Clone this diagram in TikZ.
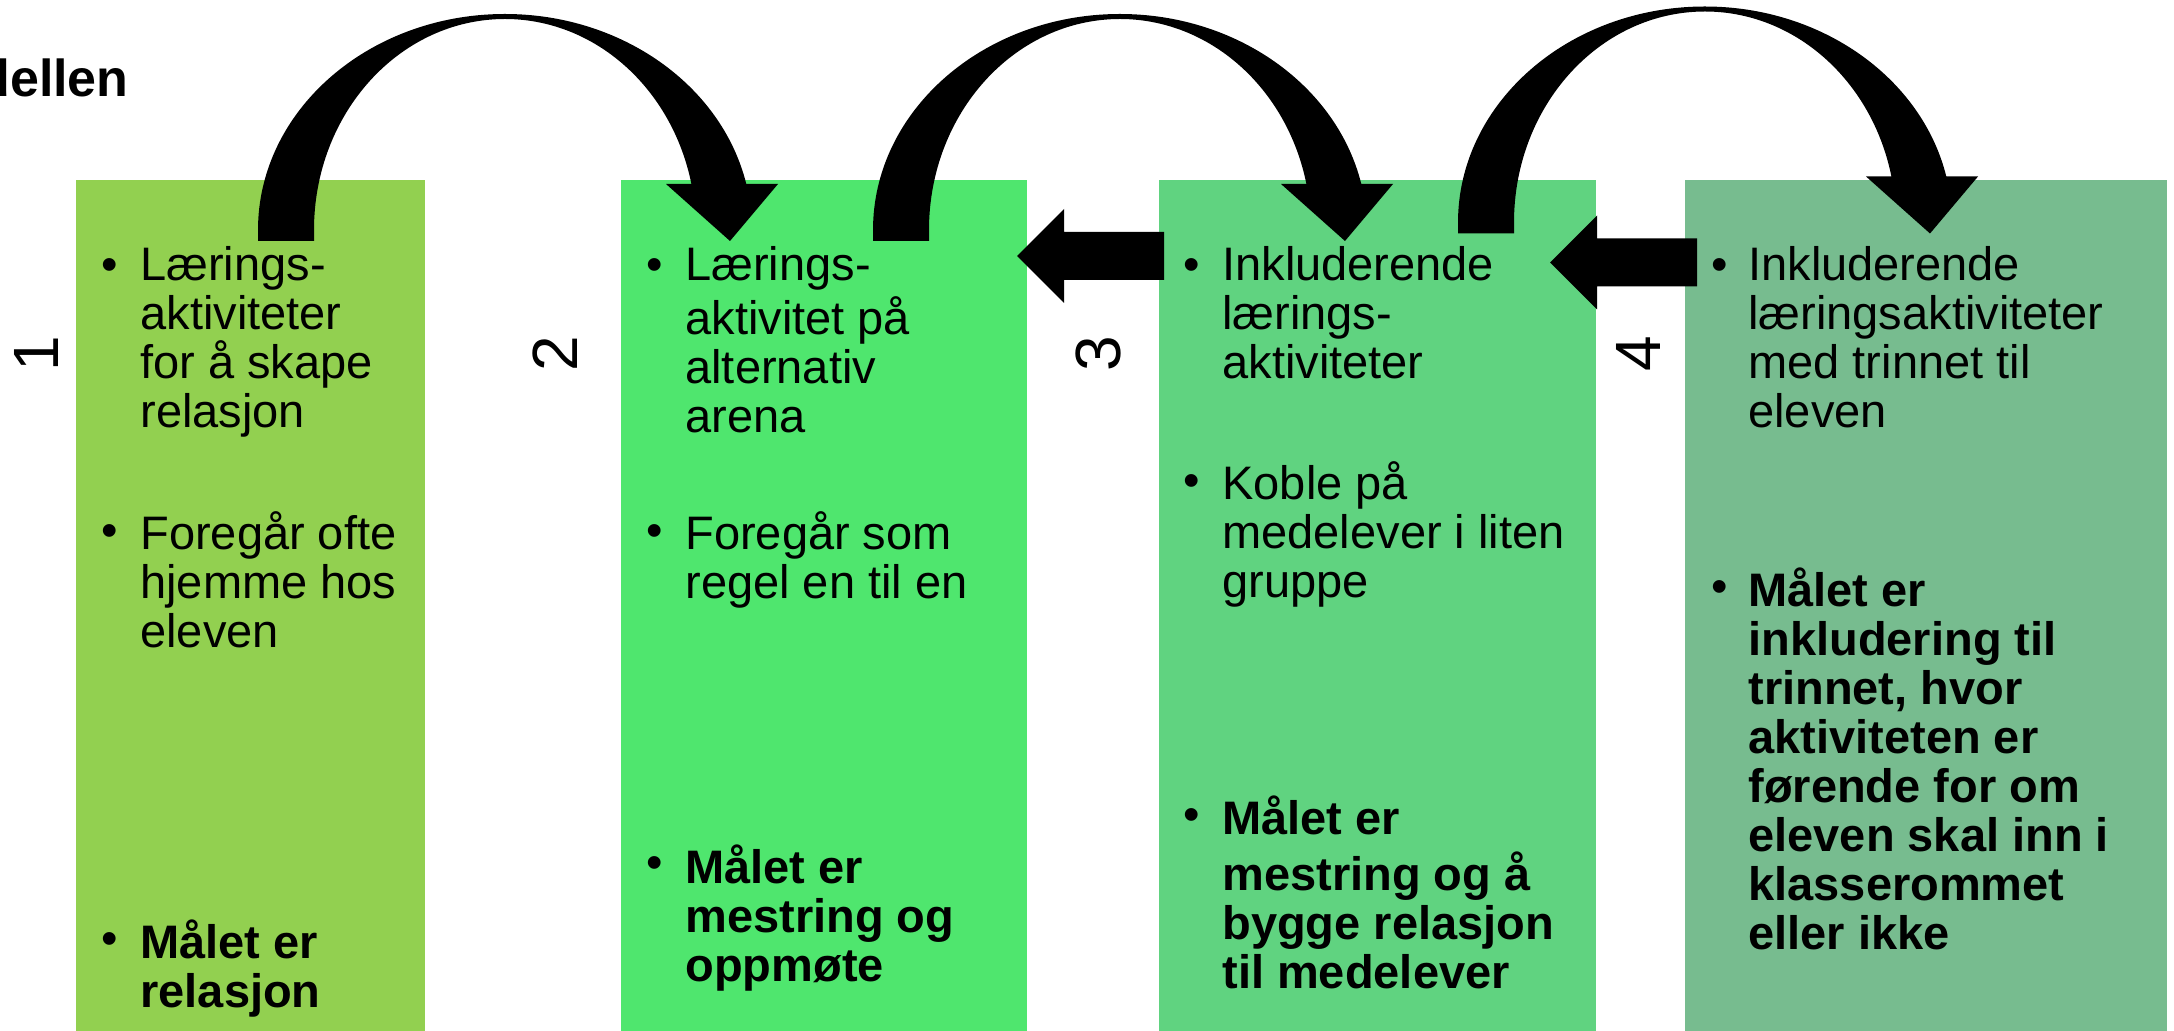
\documentclass[tikz,border=0pt]{standalone}
\usepackage{fontspec}
\setmainfont{Liberation Sans}
\usetikzlibrary{fit}

\definecolor{trinn1}{RGB}{146,208,80}
\definecolor{trinn2}{RGB}{79,230,110}
\definecolor{trinn3}{RGB}{96,211,128}
\definecolor{trinn4}{RGB}{119,188,143}

\tikzset{
  boks/.style={inner sep=0pt, draw=none},
  punkt/.style={anchor=north west, inner sep=0pt, align=left, font=\fontsize{23.5}{24.5}\selectfont},
  fet/.style={punkt, font=\fontsize{23.5}{24.5}\selectfont\bfseries},
  prikk/.style={anchor=north, inner sep=0pt, font=\fontsize{23.5}{24.5}\selectfont},
  tall/.style={rotate=90, inner sep=0pt, font=\fontsize{32}{38}\selectfont},
  tittel/.style={anchor=base east, inner sep=0pt, font=\fontsize{26}{30}\selectfont\bfseries},
  % rett blokkpil mot venstre, origo i spissen
  pil/.pic={
    \fill (0,0) -- (47,-47) -- (47,-24) -- (147,-24) -- (147,24) -- (47,24) -- (47,47) -- cycle;
  }
}

% buet blokkpil, origo midt over buen
\newcommand{\buepil}{%
  \fill (-247,241) -- (-247,230) .. controls (-247,110.7) and (-136.4,14) .. (0,14)
    .. controls (116,14) and (216.6,84.9) .. (241.3,184) -- (273,184)
    -- (225,241) -- (161,184) -- (186.4,184)
    .. controls (166.9,87.6) and (89.4,19) .. (0,19)
    .. controls (-105.5,19) and (-191,113.5) .. (-191,230) -- (-191,241) -- cycle;%
}

\begin{document}
\begin{tikzpicture}[x=0.5pt,y=0.5pt,yscale=-1,xscale=1]
\useasboundingbox (0,0) rectangle (2174,1031);
\clip (0,0) rectangle (2174,1031);

% Tittel
\node[tittel] (tittel) at (129,97) {dellen};

% Kolonner
\node[boks, fill=trinn1, fit={(76,180) (425,1031)}] (b1) {};
\node[boks, fill=trinn2, fit={(621,180) (1027,1031)}] (b2) {};
\node[boks, fill=trinn3, fit={(1159,180) (1596,1031)}] (b3) {};
\node[boks, fill=trinn4, fit={(1685,180) (2167,1031)}] (b4) {};

% Trinnummer
\node[tall] (n1) at (36,354) {1};
\node[tall] (n2) at (555,354) {2};
\node[tall] (n3) at (1098,354) {3};
\node[tall] (n4) at (1638,354) {4};

% Buepiler
\begin{scope}[shift={(505,0)}]
\buepil
\end{scope}
\begin{scope}[shift={(1120,0)}]
\buepil
\end{scope}
\begin{scope}[shift={(1705,-7.5)}]
\buepil
\end{scope}

% Rette piler
\pic at (1017,256) {pil};
\pic at (1550,262.5) {pil};

% Trinn 1
\node[punkt] (t1a) at (140,245.7) {\strut Lærings-\\aktiviteter\\for å skape\\relasjon};
\node[prikk] at ([xshift=-15pt]t1a.north west) {\strut\textbullet};
\node[punkt] (t1b) at (140,511.7) {\strut Foregår ofte\\hjemme hos\\eleven};
\node[prikk] at ([xshift=-15pt]t1b.north west) {\strut\textbullet};
\node[fet] (t1c) at (140,919.7) {\strut Målet er\\relasjon};
\node[prikk] at ([xshift=-15pt]t1c.north west) {\strut\textbullet};

% Trinn 2
\node[punkt] (t2a) at (685,245.7) {\strut Lærings-\\aktivitet på\\alternativ\\arena};
\node[prikk] at ([xshift=-15pt]t2a.north west) {\strut\textbullet};
\node[punkt] (t2b) at (685,511.7) {\strut Foregår som\\regel en til en};
\node[prikk] at ([xshift=-15pt]t2b.north west) {\strut\textbullet};
\node[fet] (t2c) at (685,844) {\strut Målet er\\mestring og\\oppmøte};
\node[prikk] at ([xshift=-15pt]t2c.north west) {\strut\textbullet};

% Trinn 3
\node[punkt] (t3a) at (1222,245.7) {\strut Inkluderende\\lærings-\\aktiviteter};
\node[prikk] at ([xshift=-15pt]t3a.north west) {\strut\textbullet};
\node[punkt] (t3b) at (1222,461.7) {\strut Koble på\\medelever i liten\\gruppe};
\node[prikk] at ([xshift=-15pt]t3b.north west) {\strut\textbullet};
\node[fet] (t3c) at (1222,795.7) {\strut Målet er\\mestring og å\\bygge relasjon\\til medelever};
\node[prikk] at ([xshift=-15pt]t3c.north west) {\strut\textbullet};

% Trinn 4
\node[punkt] (t4a) at (1748,245.7) {\strut Inkluderende\\læringsaktiviteter\\med trinnet til\\eleven};
\node[prikk] at ([xshift=-14pt]t4a.north west) {\strut\textbullet};
\node[fet] (t4b) at (1748,567.7) {\strut Målet er\\inkludering til\\trinnet, hvor\\aktiviteten er\\førende for om\\eleven skal inn i\\klasserommet\\eller ikke};
\node[prikk] at ([xshift=-14pt]t4b.north west) {\strut\textbullet};

\end{tikzpicture}
\end{document}
